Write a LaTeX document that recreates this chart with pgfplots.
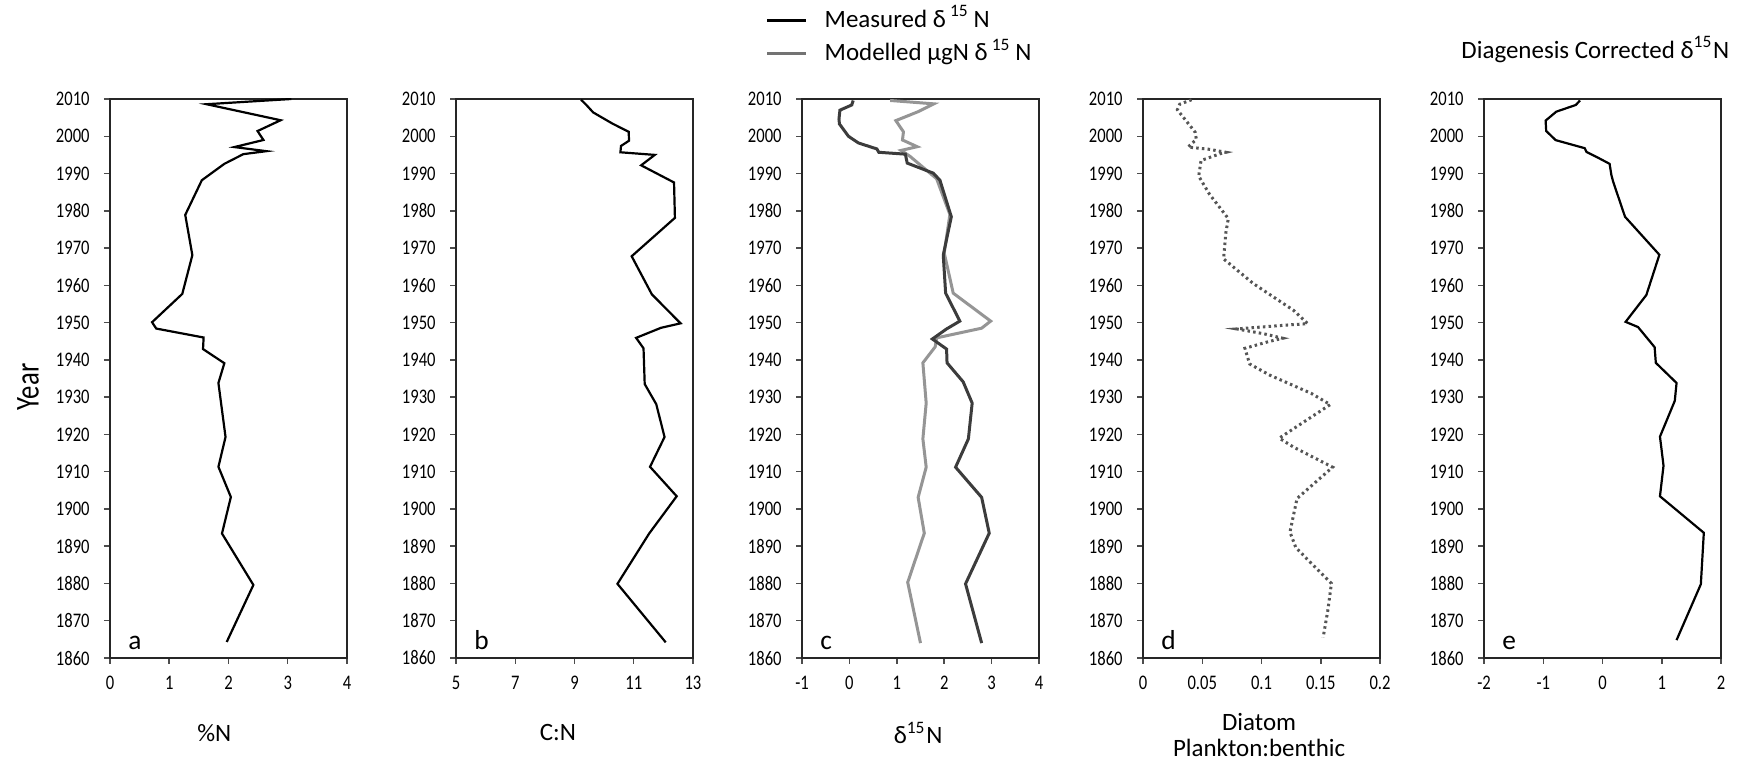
\documentclass[border=0pt]{standalone}
\usepackage{fontspec}
\setmainfont{Carlito}
\newfontfamily\narrow[FakeStretch=0.8]{Carlito}
\usepackage{pgfplots}
\pgfplotsset{compat=1.18}

\definecolor{meas}{HTML}{3C3C3C}
\definecolor{modl}{HTML}{959595}
\definecolor{diat}{HTML}{555555}

\newcommand{\tickfont}{\narrow\fontsize{5.9}{7}\selectfont}
\newcommand{\labfont}{\fontsize{7.1}{8.5}\selectfont}
\newcommand{\legfont}{\fontsize{7.1}{8}\selectfont}

\tikzset{letter/.style={anchor=base west, font=\fontsize{7.8}{9}\selectfont}}

\pgfplotsset{
  every axis title shift=0pt,
  core/.style={
    scale only axis, width=23.7mm, height=55.9mm, anchor=south west,
    ymin=1860, ymax=2010,
    ytick={1860,1870,...,2010},
    yticklabels={1860,1870,1880,1890,1900,1910,1920,1930,1940,1950,1960,1970,1980,1990,2000,2010},
    tick align=outside, xtick pos=bottom, ytick pos=left,
    major tick length=0.6mm,
    axis line style={line width=0.22mm, black!85},
    every tick/.style={line width=0.15mm, black!70},
    tick label style={font=\tickfont},
    yticklabel style={xshift=-0.2mm},
    label style={font=\labfont},
  },
}

\begin{document}
\begin{tikzpicture}
\useasboundingbox (0,0) rectangle (175.4mm,76.2mm);

% a: %N
\begin{axis}[core, at={(11.0mm,10.4mm)},
  xmin=0, xmax=4, xtick={0,1,2,3,4}, xticklabels={0,1,2,3,4},
  xlabel={\%N}, x label style={at={(axis description cs:0.44,-0.134)}, anchor=center},
  ylabel={Year}, y label style={at={(axis description cs:-0.346,0.485)}, anchor=center, font=\narrow\fontsize{9.5}{11}\selectfont}]
\addplot[black, line width=0.22mm] coordinates {
 (3.06,2010) (1.63,2008.6) (2.88,2004.3) (2.49,2001.4) (2.59,1999) (2.10,1997.1)
 (2.64,1996) (2.25,1995.2) (1.93,1992.6) (1.55,1988.2) (1.27,1978.9) (1.39,1968.1)
 (1.22,1957.7) (0.71,1950.1) (0.78,1948.4) (1.58,1946) (1.57,1942.9) (1.93,1939.1)
 (1.83,1933.8) (1.95,1919.3) (1.83,1911.3) (2.04,1903.2) (1.89,1893.4) (2.42,1879.6)
 (1.97,1864.3)};
\node[letter] at (rel axis cs:0.025,0.015) {a};
\end{axis}

% b: C:N
\begin{axis}[core, at={(45.6mm,10.4mm)},
  xmin=5, xmax=13, xtick={5,7,9,11,13}, xticklabels={5,7,9,11,13},
  xlabel={C:N}, x label style={at={(axis description cs:0.43,-0.134)}, anchor=center}]
\addplot[black, line width=0.22mm] coordinates {
 (9.22,2009.8) (9.40,2008.4) (9.63,2006.4) (10.28,2003.4) (10.83,2001.2) (10.84,1998.8)
 (10.57,1997.4) (10.55,1995.7) (11.71,1995) (11.25,1992.2) (12.36,1987.6) (12.39,1978.1)
 (10.93,1967.8) (11.61,1957.6) (12.58,1949.8) (11.92,1948.6) (11.08,1945.9) (11.33,1943.1)
 (11.37,1933.5) (11.76,1928.1) (12.04,1919.3) (11.55,1911.3) (12.45,1903.4) (11.52,1893.4)
 (10.45,1879.9) (12.08,1864.2)};
\node[letter] at (rel axis cs:0.025,0.015) {b};
\end{axis}

% c: d15N
\begin{axis}[core, at={(80.2mm,10.4mm)},
  xmin=-1, xmax=4, xtick={-1,0,1,2,3,4}, xticklabels={-1,0,1,2,3,4},
  xlabel={δ\textsuperscript{15}N}, x label style={at={(axis description cs:0.49,-0.134)}, anchor=center},
  legend style={at={(rel axis cs:-0.155,1.167)}, anchor=north west, draw=none, fill=none,
    font=\legfont, inner sep=0pt, row sep=0.6mm,
    nodes={inner sep=0.5pt, text height=1.9mm, text depth=0.5mm}},
  legend cell align=left,
  legend image code/.code={\draw[#1] (0mm,0mm) -- (3.9mm,0mm); \path (5.4mm,0mm);}]
\addlegendimage{black, line width=0.3mm}
\addlegendentry{Measured δ\,\textsuperscript{15}\,N}
\addlegendimage{black!55, line width=0.3mm}
\addlegendentry{Modelled μgN δ\,\textsuperscript{15}\,N}
\addplot[modl, line width=0.3mm, forget plot] coordinates {
 (0.86,2009.6) (1.78,2008.7) (1.45,2006.6) (0.98,2004.2) (1.14,2001.2) (1.12,1999)
 (1.43,1997.2) (1.09,1996.2) (1.28,1994.6) (1.84,1988.6) (2.12,1979) (2.0,1968.7)
 (2.19,1957.9) (2.98,1950.4) (2.79,1948.5) (1.84,1945.9) (1.81,1943.5) (1.55,1939.2)
 (1.62,1928.4) (1.55,1918.8) (1.62,1911.2) (1.45,1903.1) (1.58,1893.5) (1.23,1880.3)
 (1.5,1864)};
\addplot[meas, line width=0.3mm, forget plot] coordinates {
 (0.08,2009.6) (0.05,2008.4) (-0.2,2007) (-0.22,2004.6) (-0.21,2003.3) (-0.02,2000)
 (0.19,1998.2) (0.58,1996.6) (0.62,1995.7) (1.18,1995.2) (1.22,1992.8) (1.77,1990.1)
 (1.91,1988.2) (2.15,1978.4) (1.98,1968.1) (2.03,1957.9) (2.33,1950.4) (2.05,1948.3)
 (1.75,1945.6) (2.05,1942.9) (2.06,1939.2) (2.4,1934.1) (2.59,1928.4) (2.51,1918.8)
 (2.24,1911.2) (2.79,1903.1) (2.95,1893.5) (2.45,1879.9) (2.79,1864)};
\node[letter] at (rel axis cs:0.025,0.015) {c};
\end{axis}

% d: diatom ratio
\begin{axis}[core, at={(114.3mm,10.4mm)},
  xmin=0, xmax=0.2, xtick={0,0.05,0.1,0.15,0.2}, xticklabels={0,0.05,0.1,0.15,0.2},
  xlabel={Diatom\\Plankton:benthic},
  x label style={at={(axis description cs:0.49,-0.138)}, anchor=center, align=center,
    font=\fontsize{7.1}{7.2}\selectfont}]
\addplot[diat, line width=0.3mm, dash pattern=on 0.25mm off 0.32mm] coordinates {
 (0.041,2009.8) (0.031,2008.6) (0.029,2007.1) (0.044,2001.1) (0.045,1999.2) (0.038,1997.1)
 (0.056,1996.5) (0.070,1995.7) (0.065,1995.3) (0.049,1993.5) (0.047,1989.3) (0.056,1984.5)
 (0.072,1977.9) (0.070,1974.3) (0.068,1967.1) (0.093,1960.5) (0.127,1953.3) (0.139,1949.7)
 (0.124,1949.4) (0.079,1948.3) (0.102,1947) (0.118,1945.8) (0.106,1944.9) (0.086,1943.1)
 (0.090,1938.9) (0.107,1935.9) (0.142,1931) (0.158,1928) (0.115,1919) (0.127,1916.6)
 (0.160,1911.2) (0.130,1902.8) (0.124,1893.8) (0.129,1889.6) (0.159,1880) (0.156,1872.8)
 (0.152,1865.5)};
\node[letter] at (rel axis cs:0.025,0.015) {d};
\end{axis}

% e: diagenesis corrected
\begin{axis}[core, at={(148.4mm,10.4mm)},
  xmin=-2, xmax=2, xtick={-2,-1,0,1,2}, xticklabels={-2,-1,0,1,2},
  title={Diagenesis Corrected δ\textsuperscript{15}N},
  title style={at={(axis description cs:0.47,1.088)}, anchor=center, font=\fontsize{7.1}{8.5}\selectfont}]
\addplot[black, line width=0.22mm] coordinates {
 (-0.38,2009.6) (-0.45,2008.4) (-0.78,2006.6) (-0.96,2004.2) (-0.95,2001.4) (-0.79,1998.96)
 (-0.30,1996.8) (-0.27,1995.8) (-0.07,1994.2) (0.12,1992.6) (0.15,1989.6) (0.18,1987.8)
 (0.38,1978.4) (0.96,1968.2) (0.74,1957.4) (0.39,1950.2) (0.60,1948.8) (0.88,1943.4)
 (0.90,1939.2) (1.25,1933.8) (1.22,1929) (0.97,1919.4) (1.03,1911.6) (0.97,1903.4)
 (1.71,1893.6) (1.66,1879.8) (1.25,1864.8)};
\node[letter] at (rel axis cs:0.025,0.015) {e};
\end{axis}
\end{tikzpicture}
\end{document}
